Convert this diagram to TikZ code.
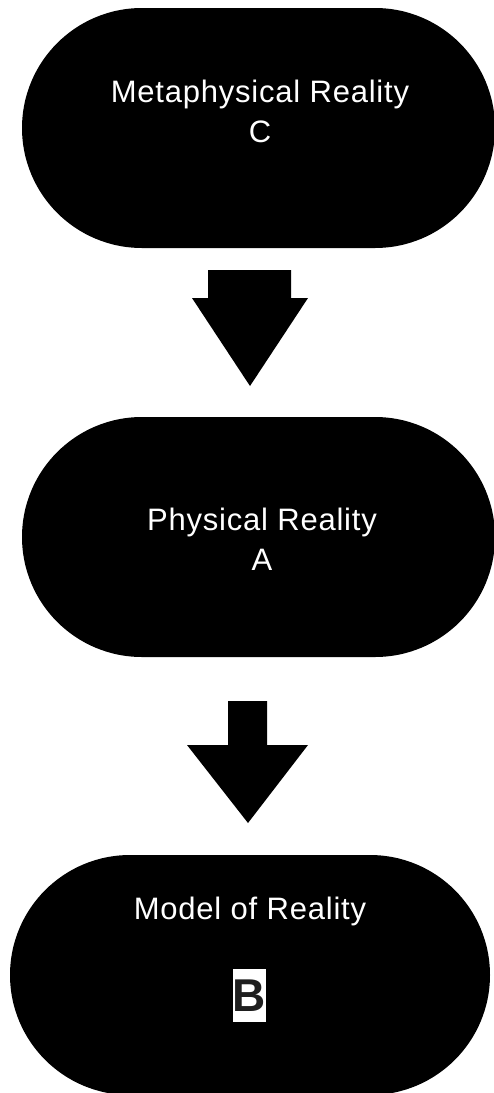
\documentclass[tikz,border=0pt]{standalone}
\usepackage{xcolor}
\usepackage{fontspec}
\setmainfont[LetterSpace=2.5]{Liberation Sans}
\usepackage{tikz}
\usetikzlibrary{shapes.misc}
\definecolor{ink}{RGB}{0, 0, 0}
\definecolor{tagtext}{RGB}{30, 30, 30}

\tikzset{
  stadium/.style={rounded rectangle, fill=ink, inner sep=0pt, minimum height=240pt},
  caption/.style={anchor=base, text=white, inner sep=0pt, font=\fontsize{31}{37}\selectfont},
  blockarrow/.style={fill=ink}
}

\begin{document}
\begin{tikzpicture}[x=1pt, y=-1pt]
\useasboundingbox (0,0) rectangle (494,1093);

% Levels
\node[stadium, minimum width=473pt] (meta) at (258.5,128) {};
\node[stadium, minimum width=473pt] (phys) at (258.5,537) {};
\node[stadium, minimum width=480pt] (model) at (250,975) {};

% Labels
\node[caption] (metaName) at (260,102) {Metaphysical Reality};
\node[caption] (metaTag) at (260,142) {C};
\node[caption] (physName) at (262,530) {Physical Reality};
\node[caption] (physTag) at (262,570) {A};
\node[caption] (modelName) at (250,919) {Model of Reality};
\node[fill=white, text=tagtext, inner sep=0pt, minimum width=33pt, minimum height=53pt,
      font=\bfseries\fontsize{46}{46}\selectfont] (modelTag) at (249.5,995.5) {B};

% Arrows
\fill[blockarrow] (208,270) -- (291,270) -- (291,298) -- (308,298) -- (250,386)
  -- (192,298) -- (208,298) -- cycle;
\fill[blockarrow] (228,701) -- (267,701) -- (267,745) -- (308,745) -- (248,823)
  -- (187,745) -- (228,745) -- cycle;
\end{tikzpicture}
\end{document}
